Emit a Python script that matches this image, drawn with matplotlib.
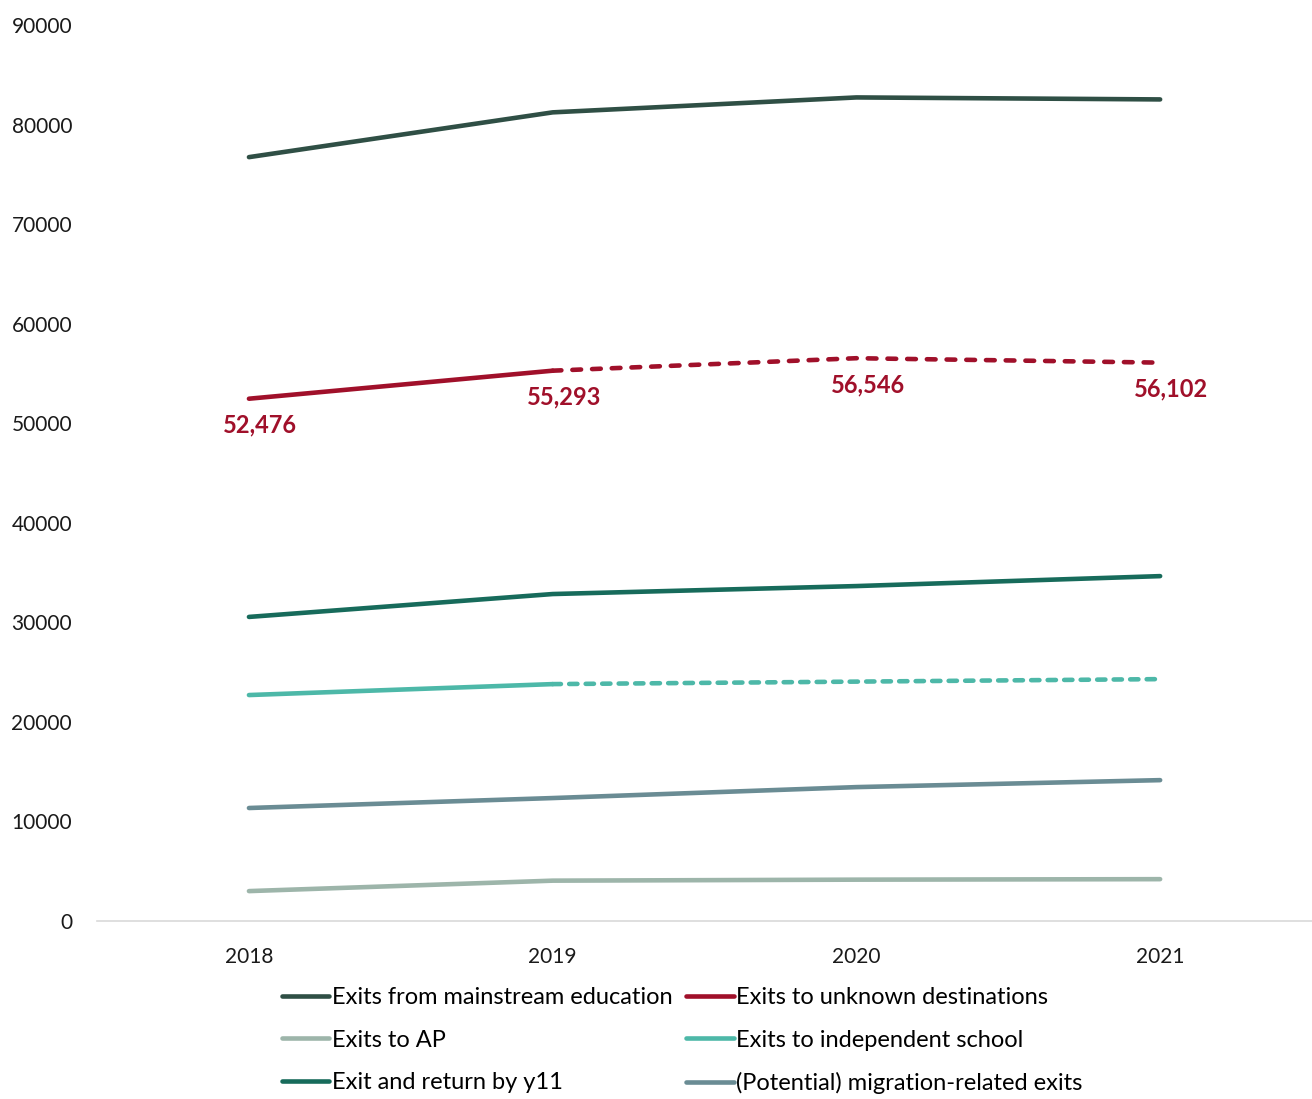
import numpy as np
import matplotlib.pyplot as plt

plt.rcParams['font.family'] = ['Lato', 'DejaVu Sans']

# data
years = ['2018', '2019', '2020', '2021']
mainstream = [76750, 81250, 82750, 82550]
unknown = [52476, 55293, 56546, 56102]
exit_return = [30550, 32850, 33650, 34650]
independent = [22700, 23800, 24050, 24300]
migration = [11350, 12350, 13450, 14150]
ap = [3000, 4050, 4150, 4200]

x = np.arange(len(years))

fig = plt.figure(figsize=(13.12, 10.99), dpi=100)
ax = fig.add_axes([0.074, 0.162, 0.926, 0.815])

lw = 3.3
ax.plot(x, mainstream, color='#2f4f45', lw=lw, solid_capstyle='round', label='Exits from mainstream education')
ax.plot(x[:2], unknown[:2], color='#a0102a', lw=lw, solid_capstyle='round', label='Exits to unknown destinations')
ax.plot(x[1:], unknown[1:], color='#a0102a', lw=lw, dash_capstyle='round', dashes=(1.9, 2.4))
ax.plot(x, ap, color='#9db5aa', lw=lw, solid_capstyle='round', label='Exits to AP')
ax.plot(x[:2], independent[:2], color='#4db8a8', lw=lw, solid_capstyle='round', label='Exits to independent school')
ax.plot(x[1:], independent[1:], color='#4db8a8', lw=lw, dash_capstyle='round', dashes=(1.8, 1.8))
ax.plot(x, exit_return, color='#176b5b', lw=lw, solid_capstyle='round', label='Exit and return by y11')
ax.plot(x, migration, color='#6a8c94', lw=lw, solid_capstyle='round', label='(Potential) migration-related exits')

for xi, v in zip(x, unknown):
    ax.annotate(f'{v:,}', (xi, v), xytext=(8, -19), textcoords='offset points',
                ha='center', va='center', color='#a0102a', fontsize=17, fontweight='bold')

ax.set_xlim(-0.5, 3.5)
ax.set_ylim(0, 90000)
ax.set_yticks(np.arange(0, 90001, 10000))
ax.set_xticks(x)
ax.set_xticklabels(years)
ax.tick_params(axis='both', length=0, labelsize=15, colors='#1a1a1a')
ax.tick_params(axis='y', pad=18)
ax.tick_params(axis='x', pad=19)

for s in ['top', 'right', 'left']:
    ax.spines[s].set_visible(False)
ax.spines['bottom'].set_color('#d9d9d9')
ax.spines['bottom'].set_linewidth(1.2)

h, l = ax.get_legend_handles_labels()
order = [0, 2, 4, 1, 3, 5]
leg = fig.legend([h[i] for i in order], [l[i] for i in order], loc='upper center',
                 bbox_to_anchor=(0.52, 0.121), ncol=2, frameon=False, fontsize=17,
                 handlelength=2.0, handletextpad=0.1, columnspacing=0.6, labelspacing=0.9)

plt.savefig('out.png', dpi=100)
